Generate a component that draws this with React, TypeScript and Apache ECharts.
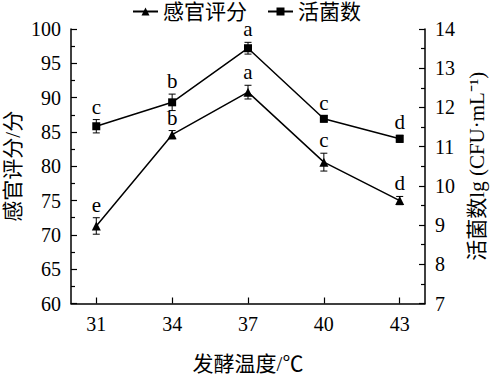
import React, { useEffect, useRef } from "react";
import * as echarts from "echarts";

const temps = [31, 34, 37, 40, 43];
const sensoryScore = [71.3, 84.6, 90.8, 80.6, 75.0];
const sensoryErr = [1.2, 0.6, 1.0, 1.3, 0.6];
const sensoryLetters = ["e", "b", "a", "c", "d"];
const viableCount = [11.52, 12.13, 13.51, 11.71, 11.2];
const viableErr = [0.17, 0.21, 0.15, 0.08, 0.09];
const viableLetters = ["c", "b", "a", "c", "d"];
const xTicks = [31, 34, 37, 40, 43];

const FONT = "Liberation Serif, Times New Roman, Noto Sans CJK SC, serif";

function errRender(params: any, api: any) {
  const x = api.value(0);
  const m = api.value(1);
  const e = api.value(2);
  const letters = params.seriesIndex === 2 ? sensoryLetters : viableLetters;
  const letter = letters[params.dataIndex];
  const top = api.coord([x, m + e]);
  const bot = api.coord([x, m - e]);
  const cap = 3.5;
  const st = { stroke: "#000", lineWidth: 1 };
  return {
    type: "group",
    children: [
      { type: "line", shape: { x1: top[0], y1: top[1], x2: bot[0], y2: bot[1] }, style: st },
      { type: "line", shape: { x1: top[0] - cap, y1: top[1], x2: top[0] + cap, y2: top[1] }, style: st },
      { type: "line", shape: { x1: bot[0] - cap, y1: bot[1], x2: bot[0] + cap, y2: bot[1] }, style: st },
      {
        type: "text",
        x: top[0],
        y: top[1] - 8,
        style: {
          text: letter,
          fill: "#000",
          fontSize: 21,
          lineHeight: 10,
          fontFamily: FONT,
          align: "center",
          verticalAlign: "bottom",
        },
      },
    ],
  };
}

export default function App() {
  const ref = useRef<HTMLDivElement>(null);
  useEffect(() => {
    if (!ref.current) return;
    const chart = echarts.init(ref.current, undefined, { renderer: "svg" });
    const axisCommon = {
      axisLine: { show: true, lineStyle: { color: "#000", width: 1.5 } },
      axisTick: { show: true, inside: true, length: 6, lineStyle: { color: "#000", width: 1.2 } },
      minorTick: { show: true, splitNumber: 2, length: 4, lineStyle: { color: "#000", width: 1.2 } },
      axisLabel: { color: "#000", fontSize: 20, fontFamily: FONT, margin: 10 },
      splitLine: { show: false },
      nameMoveOverlap: false,
      nameTextStyle: { color: "#000", fontSize: 21, fontFamily: FONT },
    };
    chart.setOption({
      animation: false,
      backgroundColor: "#fff",
      grid: {
        left: 71,
        right: 68,
        top: 29,
        bottom: 71.5,
        containLabel: false,
        outerBoundsMode: "none",
      },
      legend: {
        top: -4,
        left: "center",
        itemWidth: 25,
        itemHeight: 10,
        itemGap: 20,
        textStyle: { color: "#000", fontSize: 21, fontFamily: FONT },
        data: ["感官评分", "活菌数"],
      },
      xAxis: {
        type: "value",
        min: 30,
        max: 44,
        name: "发酵温度/℃",
        nameLocation: "middle",
        nameGap: 50,
        ...axisCommon,
        minorTick: { show: false },
        axisTick: { ...axisCommon.axisTick, customValues: xTicks },
        axisLabel: { ...axisCommon.axisLabel, customValues: xTicks },
      },
      yAxis: [
        {
          type: "value",
          min: 60,
          max: 100,
          interval: 5,
          name: "感官评分/分",
          nameLocation: "middle",
          nameRotate: 90,
          nameGap: 48,
          ...axisCommon,
        },
        {
          type: "value",
          min: 7,
          max: 14,
          interval: 1,
          position: "right",
          name: "活菌数lg (CFU·mL⁻¹)",
          nameLocation: "middle",
          nameRotate: 90,
          nameGap: 41,
          ...axisCommon,
        },
      ],
      series: [
        {
          name: "感官评分",
          type: "line",
          yAxisIndex: 0,
          data: temps.map((t, i) => [t, sensoryScore[i]]),
          symbol: "triangle",
          symbolSize: 9,
          lineStyle: { color: "#000", width: 1.5 },
          itemStyle: { color: "#000" },
          z: 3,
        },
        {
          name: "活菌数",
          type: "line",
          yAxisIndex: 1,
          data: temps.map((t, i) => [t, viableCount[i]]),
          symbol: "rect",
          symbolSize: 8,
          lineStyle: { color: "#000", width: 1.5 },
          itemStyle: { color: "#000" },
          z: 3,
        },
        {
          type: "custom",
          yAxisIndex: 0,
          renderItem: errRender,
          data: temps.map((t, i) => [t, sensoryScore[i], sensoryErr[i]]),
          z: 2,
        },
        {
          type: "custom",
          yAxisIndex: 1,
          renderItem: errRender,
          data: temps.map((t, i) => [t, viableCount[i], viableErr[i]]),
          z: 2,
        },
      ],
    });
    return () => chart.dispose();
  }, []);
  return (
    <div
      ref={ref}
      style={{ position: "fixed", left: 0, top: 0, width: 493, height: 375 }}
    />
  );
}
